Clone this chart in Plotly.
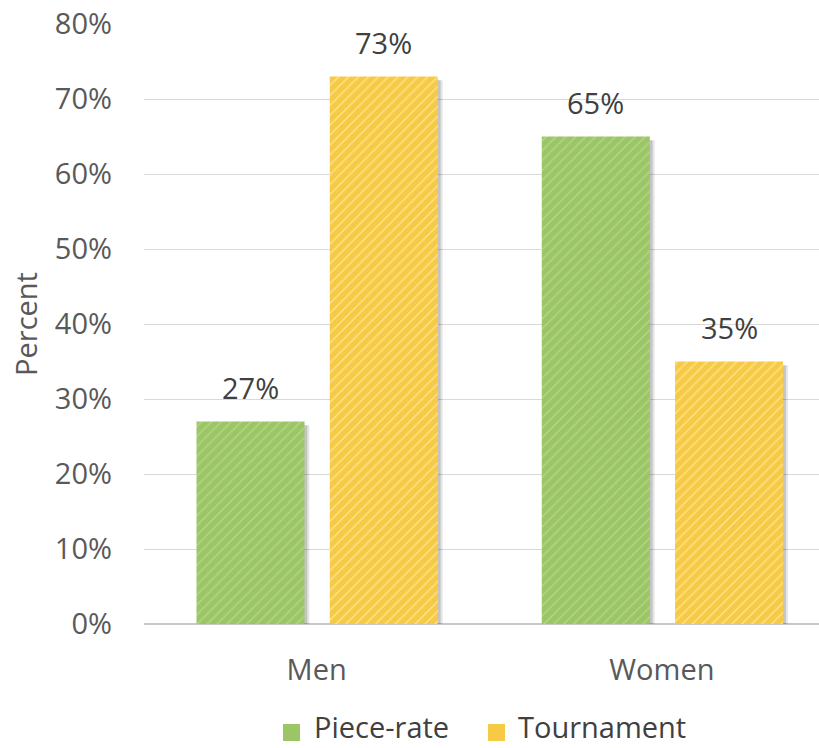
import plotly.graph_objects as go

# Share of participants choosing each compensation scheme
groups = ["Men", "Women"]
series_names = ["Piece-rate", "Tournament"]
piece_rate = [27, 65]
tournament = [73, 35]
y_ticks = [0, 10, 20, 30, 40, 50, 60, 70, 80]
y_tick_labels = [f"{v}%" for v in y_ticks]

GREEN = "#9cc566"
YELLOW = "#f7ca45"
FONT = "Open Sans, Noto Sans, sans-serif"
TEXT = "#595959"
FS = 29

x_idx = list(range(len(groups)))
bar_w = 0.313
offsets = {"Piece-rate": -0.348, "Tournament": 0.038}

# plot-area geometry in pixels, used to place the hand-built legend
L, R, T, B, W, H = 144, 0, 24, 124, 819, 748
plot_w = W - L - R
plot_h = H - T - B


def px_x(px):
    return (px - L) / plot_w


def px_y(py):
    return (H - B - py) / plot_h


fig = go.Figure()

# soft drop shadows behind the bars
for name, vals in zip(series_names, (piece_rate, tournament)):
    for dx, alpha in ((0.014, 0.10), (0.008, 0.14)):
        fig.add_trace(go.Bar(
            x=x_idx, y=vals, base=[-0.5] * len(vals),
            width=bar_w, offset=offsets[name] + dx,
            marker=dict(color=f"rgba(0,0,0,{alpha})", line_width=0),
            showlegend=False, hoverinfo="skip",
        ))

series = (
    ("Piece-rate", piece_rate, GREEN, "#b2d587"),
    ("Tournament", tournament, YELLOW, "#fde28a"),
)
for name, vals, col, streak in series:
    fig.add_trace(go.Bar(
        x=x_idx, y=vals, name=name, showlegend=False,
        width=bar_w, offset=offsets[name],
        marker=dict(
            color=col, line_width=0,
            pattern=dict(shape="/", fgcolor=streak, bgcolor=col,
                         size=7, solidity=0.22, fillmode="replace"),
        ),
    ))
    for xi, v in zip(x_idx, vals):
        fig.add_annotation(
            x=xi + offsets[name] + bar_w / 2, y=v, text=f"{v}%",
            showarrow=False, yanchor="bottom", yshift=13,
            font=dict(family=FONT, size=FS, color="#404040"),
        )

# legend: colour swatch + label for each series
legend_items = (
    ("Piece-rate", GREEN, 283, 313),
    ("Tournament", YELLOW, 488, 517),
)
for name, col, sw_x, tx_x in legend_items:
    fig.add_shape(
        type="rect", xref="paper", yref="paper",
        x0=px_x(sw_x), x1=px_x(sw_x + 17),
        y0=px_y(741), y1=px_y(724),
        fillcolor=col, line_width=0,
    )
    fig.add_annotation(
        xref="paper", yref="paper", x=px_x(tx_x), y=px_y(747),
        xanchor="left", yanchor="bottom", text=name, showarrow=False,
        borderpad=0,
        font=dict(family=FONT, size=FS, color="#404040"),
    )

fig.update_layout(
    width=W, height=H,
    margin=dict(l=L, r=R, t=T, b=B, autoexpand=False),
    paper_bgcolor="white", plot_bgcolor="white",
    barmode="overlay",
    font=dict(family=FONT, color=TEXT, size=FS),
    showlegend=False,
    xaxis=dict(
        tickmode="array", tickvals=x_idx, ticktext=groups,
        range=[-0.5, 1.455], showgrid=False, zeroline=False,
        showline=False, ticks="", ticklabelstandoff=26,
        tickfont=dict(family=FONT, size=FS, color=TEXT),
    ),
    yaxis=dict(
        range=[0, 80], tickmode="array", tickvals=y_ticks,
        ticktext=y_tick_labels, showgrid=True, gridcolor="#d9d9d9",
        gridwidth=1.2, zeroline=True, zerolinecolor="#c8c8c8",
        zerolinewidth=2, showline=False, ticks="",
        ticklabelstandoff=31,
        tickfont=dict(family=FONT, size=FS, color=TEXT),
        title=dict(text="Percent", standoff=8,
                   font=dict(family=FONT, size=FS, color=TEXT)),
    ),
)

fig.write_html("out.html")
